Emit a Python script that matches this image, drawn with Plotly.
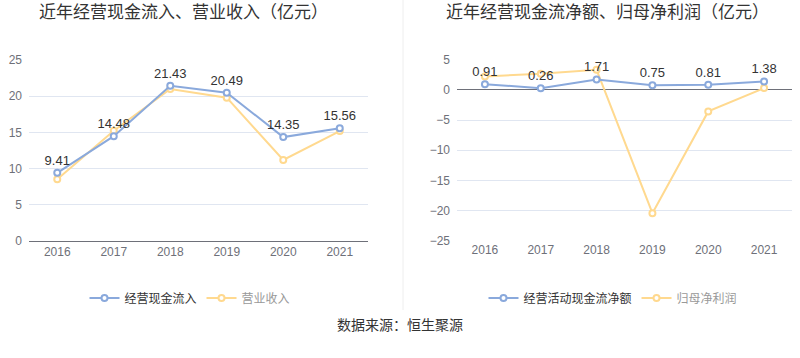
import plotly.graph_objects as go

years = ["2016", "2017", "2018", "2019", "2020", "2021"]
cash_inflow = [9.41, 14.48, 21.43, 20.49, 14.35, 15.56]
revenue = [8.52, 15.24, 21.0, 19.8, 11.19, 15.19]
net_cash = [0.91, 0.26, 1.71, 0.75, 0.81, 1.38]
net_profit = [2.2, 2.64, 3.3, -20.4, -3.58, 0.28]

left_title = "近年经营现金流入、营业收入（亿元）"
right_title = "近年经营现金流净额、归母净利润（亿元）"
source_text = "数据来源：恒生聚源"

BLUE = "#8aa9dc"
YELLOW = "#ffd98f"
FONT = "Liberation Sans, Noto Sans CJK SC, sans-serif"

fig = go.Figure()

def line_trace(x, y, name, color, xa, ya, legend, labels):
    return go.Scatter(
        x=x, y=y, name=name, xaxis=xa, yaxis=ya, legend=legend,
        mode="lines+markers+text" if labels else "lines+markers",
        line=dict(color=color, width=2),
        marker=dict(size=6, color="white", line=dict(color=color, width=2)),
        text=[f"{v:.2f}" for v in y] if labels else None,
        textposition="top center",
        textfont=dict(size=13, color="#333333", family=FONT),
        cliponaxis=False,
    )

fig.add_trace(line_trace(years, revenue, "<span style='color:#999999'>营业收入</span>", YELLOW, "x", "y", "legend", False))
fig.add_trace(line_trace(years, cash_inflow, "经营现金流入", BLUE, "x", "y", "legend", True))
fig.add_trace(line_trace(years, net_profit, "<span style='color:#999999'>归母净利润</span>", YELLOW, "x2", "y2", "legend2", False))
fig.add_trace(line_trace(years, net_cash, "经营活动现金流净额", BLUE, "x2", "y2", "legend2", True))

H = 358.0
W = 800.0
def py(v):
    return 1 - v / H

axis_common = dict(
    tickfont=dict(size=12, color="#6e7079", family=FONT),
    showgrid=False, ticks="", fixedrange=True, range=[-0.5, 5.5], automargin=False,
)
yaxis_common = dict(
    tickfont=dict(size=12, color="#6e7079", family=FONT),
    showgrid=True, gridcolor="#e0e6f1", gridwidth=1, ticks="",
    showline=False, fixedrange=True, ticklabelstandoff=6, automargin=False,
)

fig.update_layout(
    width=800, height=358, autosize=False,
    margin=dict(l=0, r=0, t=0, b=0, pad=0),
    paper_bgcolor="white", plot_bgcolor="white",
    font=dict(family=FONT, color="#333333"),
    showlegend=True,
    xaxis=dict(domain=[29 / W, 368 / W], anchor="y", type="category",
               showline=True, linecolor="#6e7079", linewidth=1, **axis_common),
    yaxis=dict(domain=[py(241), py(60)], anchor="x", range=[0, 25], dtick=5,
               zeroline=False, **yaxis_common),
    xaxis2=dict(domain=[457 / W, 792 / W], anchor="y2", type="category",
                showline=False, **axis_common),
    yaxis2=dict(domain=[py(241), py(59.5)], anchor="x2", range=[-25, 5], dtick=5,
                zeroline=True, zerolinecolor="#6e7079", zerolinewidth=1, **yaxis_common),
    legend=dict(orientation="h", x=190 / W, xanchor="center", y=py(298), yanchor="middle",
                font=dict(size=12, color="#333333", family=FONT),
                traceorder="reversed", itemwidth=30, bgcolor="rgba(0,0,0,0)"),
    legend2=dict(orientation="h", x=613 / W, xanchor="center", y=py(298), yanchor="middle",
                 font=dict(size=12, color="#333333", family=FONT),
                 traceorder="reversed", itemwidth=30, bgcolor="rgba(0,0,0,0)"),
    annotations=[
        dict(text=left_title, x=183 / W, y=py(13), xref="paper", yref="paper",
             showarrow=False, font=dict(size=17, color="#333333", family=FONT),
             xanchor="center", yanchor="middle"),
        dict(text=right_title, x=607 / W, y=py(13), xref="paper", yref="paper",
             showarrow=False, font=dict(size=17, color="#333333", family=FONT),
             xanchor="center", yanchor="middle"),
        dict(text=source_text, x=400 / W, y=py(325), xref="paper", yref="paper",
             showarrow=False, font=dict(size=14, color="#333333", family=FONT),
             xanchor="center", yanchor="middle"),
    ],
    shapes=[
        dict(type="line", xref="paper", yref="paper", x0=403 / W, x1=403 / W,
             y0=py(310), y1=1, line=dict(color="#eeeeee", width=1)),
    ],
)

fig.write_html("out.html", config={"displayModeBar": False, "responsive": False},
               post_script="document.body.style.margin='0';document.body.style.overflow='hidden';")
